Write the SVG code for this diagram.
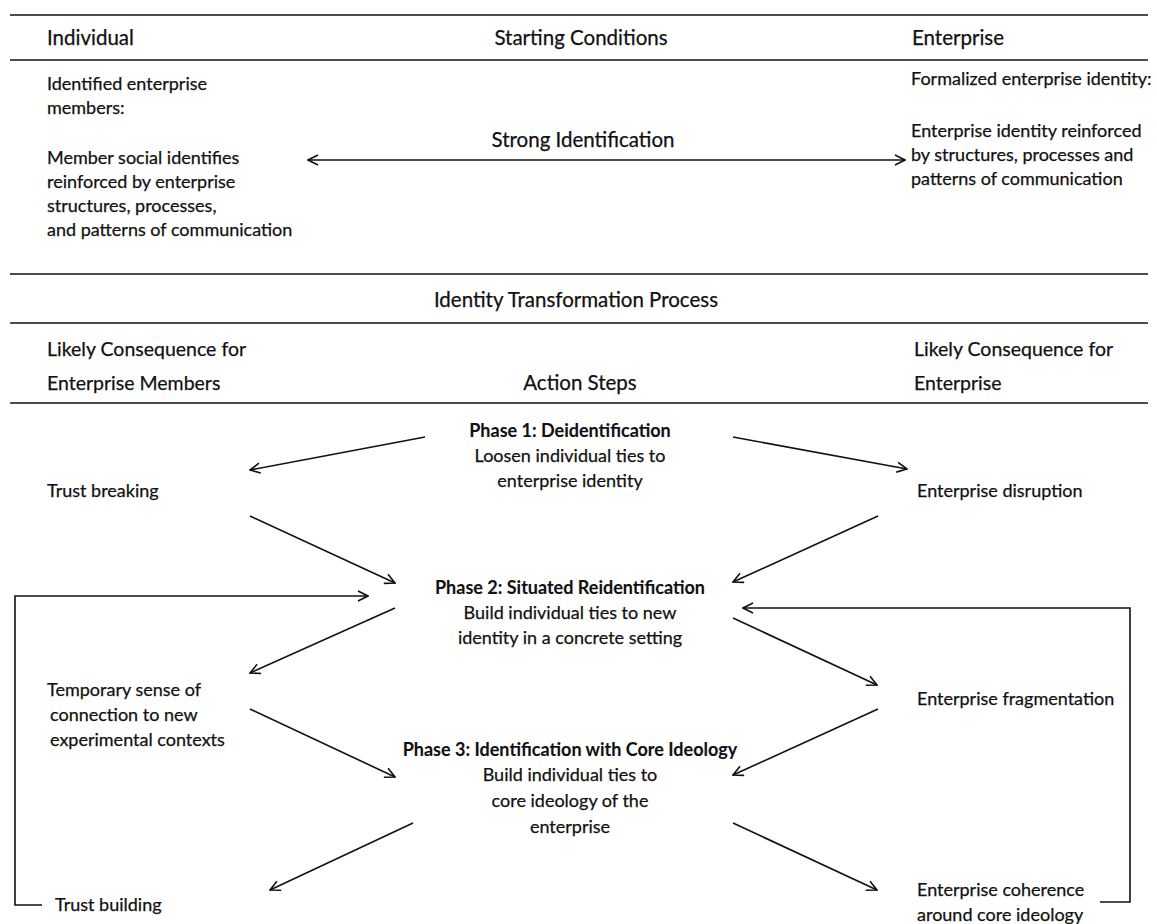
<svg xmlns="http://www.w3.org/2000/svg" width="1157" height="924" viewBox="0 0 1157 924">
<defs>
<style>
text{font-family:Lato,"Liberation Sans",sans-serif;fill:#111;stroke:#111;stroke-width:0.25}
.h{font-size:20.5px}
.h2{font-size:19.5px}
.b{font-size:18px}
.p{font-size:18px;font-weight:bold;stroke-width:0.1}
.m{text-anchor:middle}
.rule{stroke:#111;stroke-width:1.6;fill:none}
.c{stroke:#111;stroke-width:1.6;fill:none}
</style>
<marker id="ah" viewBox="0 0 12 12" refX="11" refY="6" markerWidth="12" markerHeight="12" markerUnits="userSpaceOnUse" orient="auto-start-reverse">
<path d="M1,1 L11,6 L1,11" fill="none" stroke="#111" stroke-width="1.6"/>
</marker>
</defs>
<rect width="1157" height="924" fill="#fff"/>
<g id="rules">
<line class="rule" x1="10" y1="15" x2="1148" y2="15"/>
<line class="rule" x1="10" y1="60" x2="1148" y2="60"/>
<line class="rule" x1="10" y1="274" x2="1148" y2="274"/>
<line class="rule" x1="10" y1="323" x2="1148" y2="323"/>
<line class="rule" x1="10" y1="403" x2="1148" y2="403"/>
</g>
<g id="hdr-individual"><text class="h" x="47" y="45">Individual</text></g>
<g id="hdr-starting"><text class="h m" x="581" y="45">Starting Conditions</text></g>
<g id="hdr-enterprise"><text class="h" x="912" y="45">Enterprise</text></g>
<g id="start-individual">
<text class="b" x="47" y="90">Identified enterprise</text>
<text class="b" x="47" y="114">members:</text>
<text class="b" x="47" y="164">Member social identifies</text>
<text class="b" x="47" y="188">reinforced by enterprise</text>
<text class="b" x="47" y="212">structures, processes,</text>
<text class="b" x="47" y="236">and patterns of communication</text>
</g>
<g id="strong-identification"><text class="h m" x="583" y="147">Strong Identification</text></g>
<g id="start-enterprise">
<text class="b" x="911" y="85">Formalized enterprise identity:</text>
<text class="b" x="911" y="137">Enterprise identity reinforced</text>
<text class="b" x="911" y="161">by structures, processes and</text>
<text class="b" x="911" y="185">patterns of communication</text>
</g>
<g id="hdr-process"><text class="h m" x="576" y="307">Identity Transformation Process</text></g>
<g id="hdr-members">
<text class="h2" x="47" y="356">Likely Consequence for</text>
<text class="h2" x="47" y="390">Enterprise Members</text>
</g>
<g id="hdr-action"><text class="h m" x="580" y="390">Action Steps</text></g>
<g id="hdr-ent-consequence">
<text class="h2" x="914" y="356">Likely Consequence for</text>
<text class="h2" x="914" y="390">Enterprise</text>
</g>
<g id="phase1">
<text class="p m" x="570" y="437">Phase 1: Deidentification</text>
<text class="b m" x="570" y="462">Loosen individual ties to</text>
<text class="b m" x="570" y="487">enterprise identity</text>
</g>
<g id="trust-breaking"><text class="b" x="47" y="497">Trust breaking</text></g>
<g id="enterprise-disruption"><text class="b" x="917" y="497">Enterprise disruption</text></g>
<g id="phase2">
<text class="p m" x="570" y="594">Phase 2: Situated Reidentification</text>
<text class="b m" x="570" y="619">Build individual ties to new</text>
<text class="b m" x="570" y="644">identity in a concrete setting</text>
</g>
<g id="temporary-sense">
<text class="b" x="47" y="696">Temporary sense of</text>
<text class="b" x="50" y="721">connection  to new</text>
<text class="b" x="50" y="746">experimental contexts</text>
</g>
<g id="enterprise-fragmentation"><text class="b" x="917" y="705">Enterprise fragmentation</text></g>
<g id="phase3">
<text class="p m" x="570" y="756">Phase 3: Identification with Core Ideology</text>
<text class="b m" x="570" y="781">Build individual ties to</text>
<text class="b m" x="570" y="807">core ideology of the</text>
<text class="b m" x="570" y="833">enterprise</text>
</g>
<g id="trust-building"><text class="b" x="55" y="911">Trust building</text></g>
<g id="enterprise-coherence">
<text class="b" x="917" y="896">Enterprise coherence</text>
<text class="b" x="917" y="921">around core ideology</text>
</g>
<g id="connectors">
<line class="c" x1="308" y1="160" x2="905" y2="160" marker-start="url(#ah)" marker-end="url(#ah)"/>
<line class="c" x1="425" y1="437" x2="250" y2="470" marker-end="url(#ah)"/>
<line class="c" x1="733" y1="437" x2="907" y2="469" marker-end="url(#ah)"/>
<line class="c" x1="250" y1="516" x2="395" y2="583" marker-end="url(#ah)"/>
<line class="c" x1="878" y1="516" x2="733" y2="582" marker-end="url(#ah)"/>
<polyline class="c" points="42,905 15,905 15,596 368,596" marker-end="url(#ah)"/>
<polyline class="c" points="1100,902 1130,902 1130,608 743,608" marker-end="url(#ah)"/>
<line class="c" x1="395" y1="608" x2="250" y2="673" marker-end="url(#ah)"/>
<line class="c" x1="733" y1="618" x2="877" y2="685" marker-end="url(#ah)"/>
<line class="c" x1="250" y1="709" x2="395" y2="777" marker-end="url(#ah)"/>
<line class="c" x1="878" y1="709" x2="733" y2="775" marker-end="url(#ah)"/>
<line class="c" x1="413" y1="823" x2="270" y2="890" marker-end="url(#ah)"/>
<line class="c" x1="733" y1="823" x2="877" y2="890" marker-end="url(#ah)"/>
</g>
</svg>
